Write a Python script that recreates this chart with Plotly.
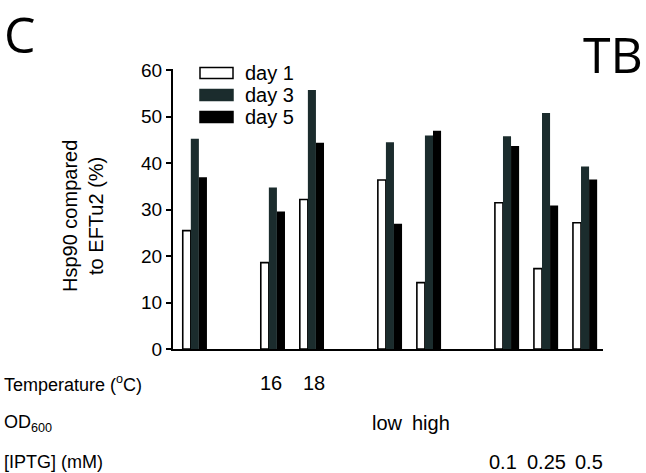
import plotly.graph_objects as go

positions = [0, 2, 3, 5, 6, 8, 9, 10]
day1 = [25.5, 18.6, 32.2, 36.4, 14.3, 31.5, 17.3, 27.2]
day3 = [45.3, 34.8, 55.8, 44.5, 46.0, 45.8, 50.8, 39.3]
day5 = [37.0, 29.6, 44.4, 27.0, 47.0, 43.7, 30.9, 36.5]

temp_pos = [2, 3]
temp_labels = ["16", "18"]
od_pos = [5, 6]
od_labels = ["low", "high"]
iptg_pos = [8, 9, 10]
iptg_labels = ["0.1", "0.25", "0.5"]

series_names = ["day 1", "day 3", "day 5"]
fills = ["#ffffff", "#1b2c2d", "#000000"]
line_w = [1.6, 0, 0]

FONT = "Liberation Sans, Arial, sans-serif"

fig = go.Figure()
for name, vals, col, lw in zip(series_names, [day1, day3, day5], fills, line_w):
    fig.add_trace(go.Bar(x=positions, y=vals, name=name,
                         marker=dict(color=col, line=dict(color="#000000", width=lw)),
                         showlegend=False))

W, H = 646, 473
ml, mr, mt, mb = 173, 43, 69, 124
PW, PH = W - ml - mr, H - mt - mb


def px(x):
    return (x - ml) / PW


def py(y):
    return (H - mb - y) / PH


fig.update_layout(
    width=W, height=H,
    margin=dict(l=ml, r=mr, t=mt, b=mb),
    paper_bgcolor="white", plot_bgcolor="white",
    barmode="group", bargap=0.38, bargroupgap=0,
    font=dict(family=FONT, size=18, color="#000"),
    xaxis=dict(range=[-0.56, 10.46], showticklabels=False, ticks="",
               showgrid=False, zeroline=False, showline=True,
               linecolor="#000", linewidth=2),
    yaxis=dict(range=[0, 60.3], tickvals=[0, 10, 20, 30, 40, 50, 60],
               ticks="outside", ticklen=5, tickwidth=1.5, tickcolor="#000",
               showgrid=False, zeroline=False, showline=True,
               linecolor="#000", linewidth=2,
               tickfont=dict(size=19, family=FONT)),
)

# y-axis title
fig.add_annotation(text="Hsp90 compared<br>to EFTu2 (%)", xref="paper", yref="paper",
                   x=px(83), y=py(216),
                   textangle=-90, showarrow=False, font=dict(size=20, family=FONT),
                   xanchor="center", yanchor="middle")

# panel letters
fig.add_annotation(text="C", xref="paper", yref="paper",
                   x=px(3), y=py(34), borderpad=0,
                   showarrow=False, font=dict(size=50, family="Open Sans, sans-serif"),
                   xanchor="left", yanchor="middle")
fig.add_annotation(text="TB", xref="paper", yref="paper",
                   x=px(644), y=py(54), borderpad=0,
                   showarrow=False, font=dict(size=50, family="Open Sans, sans-serif"),
                   xanchor="right", yanchor="middle")

# manual legend
for i, (name, col) in enumerate(zip(series_names, fills)):
    ycen = 73 + i * 22
    fig.add_shape(type="rect", xref="paper", yref="paper",
                  x0=px(200), x1=px(233),
                  y0=py(ycen + 5.5), y1=py(ycen - 5.5),
                  fillcolor=col, line=dict(color="#000" if col == "#ffffff" else col, width=1.5))
    fig.add_annotation(text=name, xref="paper", yref="paper",
                       x=px(243), y=py(ycen),
                       showarrow=False, font=dict(size=20, family=FONT),
                       xanchor="left", yanchor="middle")

# bottom row labels
rows = [("Temperature (<sup>o</sup>C)", 383, temp_pos, temp_labels),
        ("OD<sub>600</sub>", 423, od_pos, od_labels),
        ("[IPTG] (mM)", 462, iptg_pos, iptg_labels)]
for label, ypx, pos, labs in rows:
    fig.add_annotation(text=label, xref="paper", yref="paper",
                       x=px(2), y=py(ypx), showarrow=False,
                       font=dict(size=18, family=FONT), xanchor="left", yanchor="middle")
    n = len(pos)
    for j, (p, t) in enumerate(zip(pos, labs)):
        shift = (j - (n - 1) / 2) * 4
        fig.add_annotation(text=t, xref="x", yref="paper", x=p, y=py(ypx), showarrow=False,
                           xshift=shift,
                           font=dict(size=20, family=FONT), xanchor="center", yanchor="middle")

fig.write_html("out.html", config={"displayModeBar": False},
               post_script="document.body.style.margin='0px';")
